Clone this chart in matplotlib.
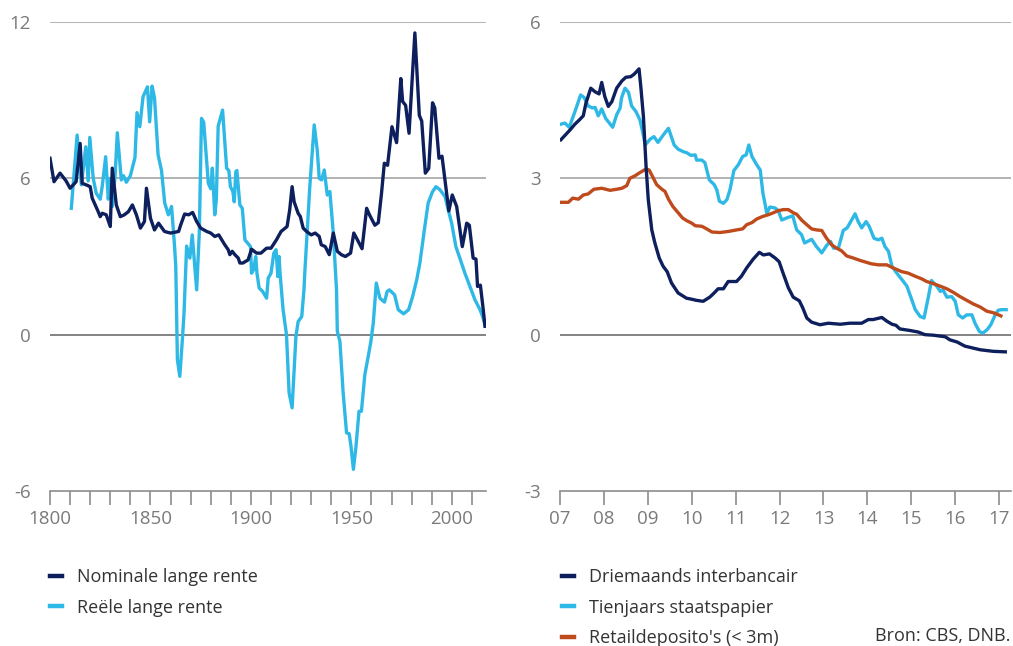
import matplotlib
matplotlib.use("Agg")
import matplotlib.pyplot as plt
from matplotlib.lines import Line2D

plt.rcParams["font.family"] = ["Open Sans", "DejaVu Sans"]
plt.rcParams["axes.unicode_minus"] = False

NAVY, SKY, RUST = "#0d1f5c", "#2eb8e6", "#bf4a1c"
GRID, ZERO, AXIS, TICKTXT, TXT = "#a6a6a6", "#6e6e6e", "#8c8c8c", "#7a7a7a", "#333333"

# ---------- left panel: long rates since 1800 ----------
nom_years = [1800, 1802, 1805, 1808, 1810, 1813, 1815, 1816, 1818, 1820, 1821, 1824, 1825,
             1826, 1828, 1830, 1831, 1833, 1835, 1837, 1839, 1841, 1843, 1845, 1847, 1848,
             1850, 1852, 1854, 1857, 1860, 1864, 1865, 1867, 1869, 1871, 1873, 1875, 1878,
             1880, 1882, 1884, 1885, 1887, 1888.7, 1889.5, 1890.7, 1892, 1893.7, 1894.5, 1896,
             1898.6, 1900.3, 1902.8, 1905, 1907.8, 1910, 1912.7, 1915, 1918, 1919.3, 1920.5,
             1921.5, 1923.5, 1924.6, 1926, 1927.7, 1930, 1932, 1934, 1935, 1937, 1939, 1941,
             1943, 1945, 1947, 1949.6, 1951.2, 1952.6, 1955.3, 1957.6, 1959, 1961.7, 1963.4,
             1965, 1966.4, 1968, 1970.2, 1972.5, 1974.6, 1975.5, 1977, 1978.7, 1981.6, 1983.8,
             1985, 1986.8, 1988.5, 1990.4, 1991.5, 1993.6, 1995.1, 1998.5, 2000.2, 2002.4,
             2005.2, 2007.4, 2008.7, 2010.6, 2012, 2012.8, 2014.2, 2015.6, 2016.5]
nom_vals = [6.77, 5.87, 6.2, 5.9, 5.62, 5.87, 7.34, 5.81, 5.75, 5.68, 5.24, 4.72, 4.53,
            4.66, 4.6, 4.15, 6.39, 4.98, 4.53, 4.6, 4.72, 4.98, 4.6, 4.09, 4.34, 5.62,
            4.47, 4.02, 4.28, 3.96, 3.9, 3.96, 4.2, 4.63, 4.6, 4.69, 4.34, 4.09, 3.96,
            3.9, 3.77, 3.83, 3.7, 3.45, 3.26, 3.07, 3.2, 3.07, 2.94, 2.75, 2.75,
            2.87, 3.28, 3.13, 3.13, 3.32, 3.32, 3.64, 3.96, 4.15, 4.79, 5.68,
            5.1, 4.66, 4.53, 4.09, 3.96, 3.83, 3.9, 3.77, 3.45, 3.38, 3.07, 3.9,
            3.2, 3.07, 3.0, 3.13, 3.9, 3.7, 3.3, 4.85, 4.6, 4.2, 4.3,
            5.43, 6.58, 6.5, 7.98, 7.37, 9.83, 8.95, 8.8, 7.73, 11.58, 8.42,
            8.2, 6.2, 6.38, 8.9, 8.7, 6.77, 6.85, 4.75, 5.36, 4.92,
            3.38, 4.28, 4.2, 2.94, 2.9, 1.85, 1.9, 0.98, 0.32]

real_years = [1810.6, 1813.5, 1815.6, 1817.8, 1819, 1819.8, 1821.5, 1823, 1825, 1826, 1827.7,
              1829, 1830, 1831, 1832.4, 1833.5, 1835.5, 1836.6, 1838, 1840, 1842.3, 1843.3,
              1844.7, 1846.3, 1848.5, 1849.6, 1850.8, 1852, 1853.8, 1855.5, 1857.1, 1858.9,
              1860.5, 1862, 1862.6, 1863.4, 1864.6, 1866, 1866.7, 1868, 1869.6, 1870.8, 1873,
              1874.3, 1875.4, 1876.5, 1878.8, 1880, 1880.8, 1882, 1882.8, 1883.7, 1885.9,
              1887.9, 1889, 1889.8, 1891, 1891.7, 1892.5, 1893, 1894.5, 1895.7, 1897, 1899,
              1899.8, 1900.3, 1901.3, 1902.4, 1903, 1904.1, 1905.8, 1907.8, 1908.6, 1910,
              1911.4, 1912.5, 1913.4, 1914, 1914.5, 1916, 1917.7, 1919, 1920.5, 1922.4, 1923.5,
              1925.3, 1926.4, 1926.8, 1929.3, 1931.5, 1933, 1934, 1935.2, 1936.5, 1938, 1939.3,
              1941, 1942.6, 1943, 1944.3, 1945.9, 1947.6, 1948.9, 1949.8, 1951, 1952.3, 1953.8,
              1955, 1956.7, 1958.4, 1959.7, 1960.9, 1962.4, 1964.2, 1966.5, 1967.8, 1968.9,
              1970.5, 1971.5, 1973.3, 1976, 1978.5, 1980.5, 1982.5, 1984.1, 1986.1, 1988.2,
              1990.4, 1992.1, 1994.1, 1996.6, 1998.2, 1999.9, 2002, 2003.7, 2006.5, 2009,
              2011.5, 2014, 2015.3, 2016.5]
real_vals = [4.85, 7.66, 5.75, 7.21, 5.9, 7.57, 6.0, 5.43, 5.2, 5.7, 6.83,
             5.2, 6.0, 4.92, 6.1, 7.75, 5.94, 6.1, 5.85, 6.1, 6.8, 8.52,
             7.98, 9.13, 9.51, 8.17, 9.54, 9.1, 6.9, 6.3, 5.05, 4.6,
             4.92, 3.38, 2.62, -0.96, -1.6, -0.06, 0.83, 3.4, 2.94, 3.83, 1.72,
             3.9, 8.3, 8.15, 5.81, 5.6, 6.39, 4.6, 5.2, 8.0, 8.62,
             6.39, 6.3, 5.68, 5.5, 5.1, 6.26, 6.3, 4.98, 4.85, 3.64, 3.45,
             3.38, 2.36, 2.49, 3.0, 2.36, 1.79, 1.66, 1.4, 2.17, 2.36,
             3.13, 3.26, 2.23, 3.0, 2.36, 0.96, 0.0, -2.23, -2.81, -0.06, 0.5,
             0.7, 1.72, 2.36, 5.68, 8.05, 7.09, 6.0, 5.94, 6.32, 5.36, 5.49,
             3.9, 1.72, 0.13, -0.26, -2.23, -3.77, -3.8, -4.28, -5.17, -4.28, -2.94,
             -2.94, -1.53, -0.83, -0.26, 0.45, 1.98, 1.4, 1.25, 1.66, 1.72,
             1.6, 1.53, 0.96, 0.8, 0.96, 1.47, 2.1, 2.75, 3.9, 5.05,
             5.49, 5.68, 5.56, 5.3, 4.79, 4.28, 3.38, 3.0, 2.36, 1.85,
             1.34, 0.96, 0.7, 0.38]

# ---------- right panel: short rates 2007-2017 ----------
ib_t = [2007.02, 2007.23, 2007.34, 2007.44, 2007.53, 2007.59, 2007.7, 2007.8, 2007.89, 2007.95,
        2008.02, 2008.1, 2008.18, 2008.29, 2008.41, 2008.5, 2008.61, 2008.69, 2008.8, 2008.84,
        2008.9, 2008.96, 2009.01, 2009.09, 2009.16, 2009.26, 2009.35, 2009.44, 2009.54, 2009.69,
        2009.88, 2010.0, 2010.1, 2010.26, 2010.41, 2010.51, 2010.6, 2010.72, 2010.83, 2011.02,
        2011.13, 2011.25, 2011.4, 2011.54, 2011.63, 2011.77, 2011.9, 2011.99, 2012.08, 2012.2,
        2012.31, 2012.45, 2012.53, 2012.62, 2012.73, 2012.92, 2013.11, 2013.38, 2013.6, 2013.87,
        2014.02, 2014.13, 2014.33, 2014.44, 2014.56, 2014.65, 2014.74, 2014.97, 2015.16, 2015.31,
        2015.5, 2015.77, 2015.88, 2016.04, 2016.22, 2016.57, 2016.87, 2017.14]
ib_v = [3.74, 3.93, 4.04, 4.12, 4.2, 4.44, 4.73, 4.66, 4.62, 4.84,
        4.57, 4.38, 4.47, 4.73, 4.87, 4.94, 4.95, 5.0, 5.1, 4.76,
        4.18, 3.23, 2.59, 2.01, 1.76, 1.47, 1.31, 1.21, 0.99, 0.8,
        0.7, 0.68, 0.66, 0.64, 0.72, 0.8, 0.88, 0.88, 1.02, 1.02,
        1.12, 1.28, 1.45, 1.58, 1.53, 1.55, 1.47, 1.4, 1.18, 0.9,
        0.72, 0.65, 0.51, 0.32, 0.24, 0.19, 0.22, 0.2, 0.22, 0.22,
        0.29, 0.29, 0.33, 0.26, 0.2, 0.18, 0.11, 0.08, 0.05, 0.0,
        -0.01, -0.04, -0.1, -0.14, -0.22, -0.29, -0.32, -0.33]

st_t = [2007.02, 2007.11, 2007.21, 2007.34, 2007.47, 2007.55, 2007.64, 2007.74, 2007.8, 2007.87,
        2007.95, 2008.04, 2008.2, 2008.29, 2008.37, 2008.4, 2008.48, 2008.56, 2008.63, 2008.73,
        2008.82, 2008.88, 2008.94, 2009.05, 2009.14, 2009.23, 2009.35, 2009.47, 2009.6, 2009.69,
        2009.81, 2009.89, 2009.98, 2010.08, 2010.11, 2010.23, 2010.3, 2010.4, 2010.51, 2010.57,
        2010.63, 2010.72, 2010.8, 2010.87, 2010.96, 2011.06, 2011.16, 2011.24, 2011.3, 2011.37,
        2011.48, 2011.56, 2011.62, 2011.71, 2011.78, 2011.9, 2011.97, 2012.05, 2012.16, 2012.3,
        2012.39, 2012.5, 2012.57, 2012.73, 2012.84, 2012.96, 2013.07, 2013.16, 2013.23, 2013.34,
        2013.45, 2013.54, 2013.64, 2013.72, 2013.79, 2013.87, 2013.97, 2014.04, 2014.15, 2014.25,
        2014.33, 2014.4, 2014.48, 2014.56, 2014.67, 2014.82, 2014.9, 2015.01, 2015.09, 2015.2,
        2015.29, 2015.39, 2015.46, 2015.58, 2015.66, 2015.72, 2015.81, 2015.92, 2016.0, 2016.07,
        2016.17, 2016.26, 2016.38, 2016.45, 2016.55, 2016.63, 2016.73, 2016.81, 2016.91, 2016.98,
        2017.06, 2017.16]
st_v = [4.04, 4.06, 3.98, 4.28, 4.6, 4.55, 4.39, 4.35, 4.36, 4.2,
        4.33, 4.15, 3.98, 4.22, 4.35, 4.54, 4.73, 4.65, 4.39, 4.28,
        4.12, 3.9, 3.64, 3.75, 3.8, 3.69, 3.83, 3.96, 3.64, 3.56,
        3.51, 3.49, 3.44, 3.45, 3.35, 3.35, 3.3, 2.97, 2.88, 2.78,
        2.56, 2.52, 2.59, 2.78, 3.15, 3.26, 3.42, 3.45, 3.64, 3.42,
        3.26, 3.16, 2.72, 2.33, 2.45, 2.43, 2.38, 2.2, 2.24, 2.28,
        2.01, 1.92, 1.76, 1.83, 1.69, 1.57, 1.71, 1.79, 1.66, 1.66,
        2.0, 2.05, 2.2, 2.32, 2.17, 2.05, 2.17, 2.08, 1.85, 1.82,
        1.85, 1.69, 1.6, 1.31, 1.18, 1.02, 0.93, 0.67, 0.48, 0.35,
        0.32, 0.73, 1.04, 0.93, 0.83, 0.86, 0.72, 0.73, 0.64, 0.38,
        0.32, 0.38, 0.38, 0.22, 0.06, 0.03, 0.1, 0.19, 0.38, 0.47,
        0.48, 0.48]

rd_t = [2007.02, 2007.19, 2007.29, 2007.42, 2007.53, 2007.64, 2007.77, 2007.95, 2008.14, 2008.29,
        2008.41, 2008.52, 2008.59, 2008.71, 2008.82, 2008.96, 2009.03, 2009.11, 2009.2, 2009.32,
        2009.39, 2009.47, 2009.57, 2009.69, 2009.79, 2009.88, 2010.0, 2010.08, 2010.23, 2010.34,
        2010.46, 2010.64, 2010.83, 2011.02, 2011.16, 2011.25, 2011.37, 2011.48, 2011.62, 2011.74,
        2011.86, 2011.97, 2012.09, 2012.2, 2012.31, 2012.39, 2012.5, 2012.62, 2012.73, 2012.84,
        2012.96, 2013.07, 2013.19, 2013.3, 2013.41, 2013.53, 2013.68, 2013.85, 2014.09, 2014.25,
        2014.44, 2014.59, 2014.78, 2014.93, 2015.09, 2015.24, 2015.35, 2015.5, 2015.66, 2015.81,
        2015.96, 2016.11, 2016.26, 2016.41, 2016.57, 2016.72, 2016.87, 2017.04]
rd_v = [2.54, 2.54, 2.62, 2.6, 2.68, 2.7, 2.79, 2.81, 2.77, 2.79,
        2.81, 2.86, 3.0, 3.05, 3.11, 3.18, 3.16, 3.03, 2.88, 2.79,
        2.75, 2.6, 2.46, 2.34, 2.24, 2.19, 2.14, 2.09, 2.08, 2.03,
        1.97, 1.96, 1.98, 2.01, 2.03, 2.11, 2.15, 2.22, 2.27, 2.3,
        2.34, 2.38, 2.4, 2.4, 2.34, 2.31, 2.2, 2.11, 2.03, 2.01,
        2.0, 1.85, 1.72, 1.66, 1.61, 1.51, 1.47, 1.42, 1.36, 1.34,
        1.34, 1.28, 1.21, 1.18, 1.12, 1.07, 1.02, 0.98, 0.93, 0.88,
        0.81, 0.73, 0.66, 0.59, 0.53, 0.45, 0.42, 0.36]

left_ticks = list(range(1800, 2011, 10))
left_labels = [str(y) if y % 50 == 0 else "" for y in left_ticks]
right_ticks = list(range(2007, 2018))
right_labels = [f"{y % 100:02d}" for y in right_ticks]


def style_axes(ax, yticks, ylim):
    ax.set_ylim(*ylim)
    ax.set_yticks(yticks)
    for y in yticks[1:]:
        ax.axhline(y, color=ZERO if y == 0 else GRID, lw=1.2, zorder=1)
    for s in ("top", "right", "left"):
        ax.spines[s].set_visible(False)
    ax.spines["bottom"].set_color(AXIS)
    ax.spines["bottom"].set_linewidth(1.2)
    ax.tick_params(axis="y", length=0, pad=14, labelsize=13.5, labelcolor=TICKTXT)
    ax.tick_params(axis="x", length=10, width=1.2, color=AXIS, pad=4,
                   labelsize=13.5, labelcolor=TICKTXT)


fig = plt.figure(figsize=(10.13, 6.46), dpi=100)
ax1 = fig.add_axes([50 / 1013, 155 / 646, 436 / 1013, 469 / 646])
ax2 = fig.add_axes([560 / 1013, 155 / 646, 451 / 1013, 469 / 646])

ax1.plot(nom_years, nom_vals, color=NAVY, lw=2.4, zorder=3, label="Nominale lange rente")
ax1.plot(real_years, real_vals, color=SKY, lw=2.4, zorder=2, label="Reële lange rente")
ax1.set_xlim(1800, 2017)
ax1.set_xticks(left_ticks)
ax1.set_xticklabels(left_labels)
style_axes(ax1, [-6, 0, 6, 12], (-6, 12))

ax2.plot(ib_t, ib_v, color=NAVY, lw=2.4, zorder=4, label="Driemaands interbancair")
ax2.plot(st_t, st_v, color=SKY, lw=2.4, zorder=2, label="Tienjaars staatspapier")
ax2.plot(rd_t, rd_v, color=RUST, lw=2.4, zorder=3, label="Retaildeposito's (< 3m)")
ax2.set_xlim(2007, 2017.27)
ax2.set_xticks(right_ticks)
ax2.set_xticklabels(right_labels)
style_axes(ax2, [-3, 0, 3, 6], (-3, 6))

for ax, x0 in ((ax1, 50 / 1013), (ax2, 562 / 1013)):
    h, l = ax.get_legend_handles_labels()
    h = [Line2D([], [], color=hh.get_color(), lw=3.2) for hh in h]
    ax.legend(h, l, loc="upper left", bbox_to_anchor=(x0, 1 - 568 / 646),
              bbox_transform=fig.transFigure, frameon=False, fontsize=13,
              handlelength=0.68, handletextpad=0.82, labelspacing=0.7,
              borderaxespad=0, borderpad=0, labelcolor=TXT)

fig.text(1010 / 1013, 1 - 636 / 646, "Bron: CBS, DNB.", ha="right", va="center",
         fontsize=13, color=TXT)

fig.savefig("out.png", dpi=100)
